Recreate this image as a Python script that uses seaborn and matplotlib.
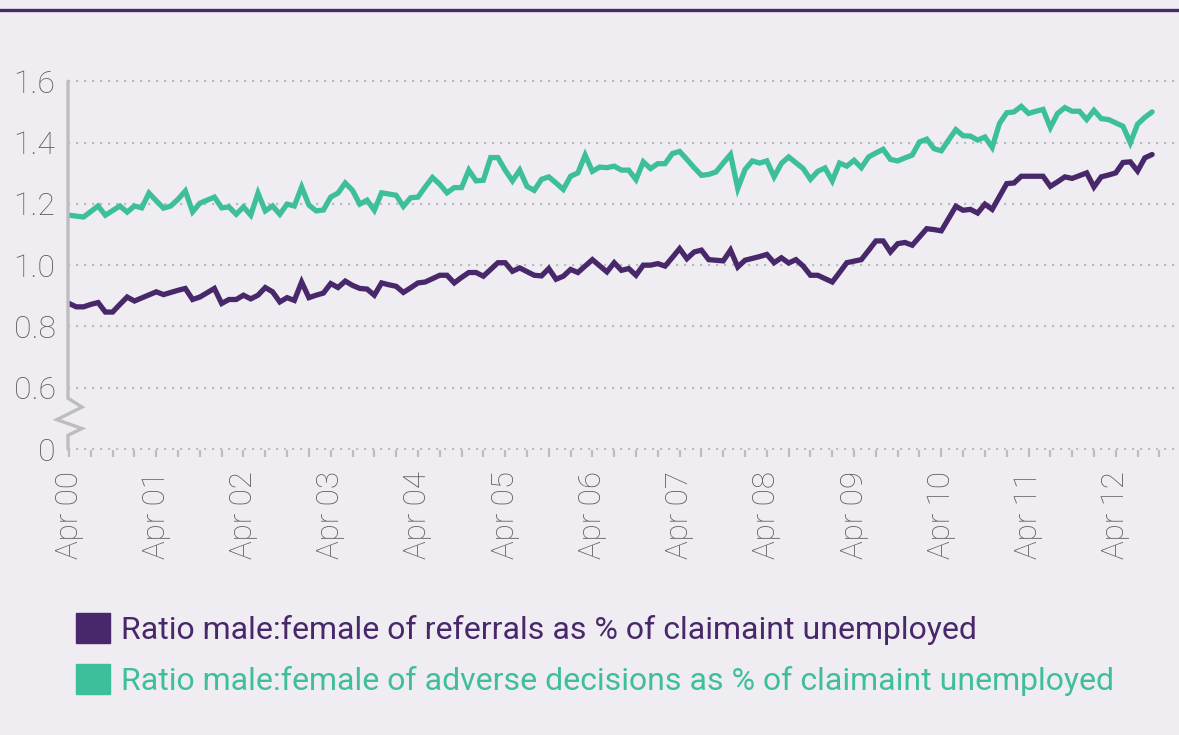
import numpy as np
import pandas as pd
import matplotlib
matplotlib.use("Agg")
import matplotlib.pyplot as plt
from matplotlib.patches import Patch
from matplotlib.lines import Line2D
import seaborn as sns


# monthly ratios, Apr 2000 onwards
referrals = [
    0.875, 0.864, 0.864, 0.872, 0.878, 0.847, 0.847, 0.872, 0.896, 0.883,
    0.893, 0.903, 0.913, 0.904, 0.911, 0.918, 0.924, 0.888, 0.896, 0.910,
    0.924, 0.875, 0.888, 0.888, 0.902, 0.890, 0.902, 0.927, 0.913, 0.880,
    0.894, 0.885, 0.945, 0.894, 0.902, 0.909, 0.940, 0.927, 0.948, 0.934,
    0.924, 0.922, 0.902, 0.942, 0.936, 0.931, 0.911, 0.926, 0.942, 0.945,
    0.956, 0.967, 0.967, 0.942, 0.960, 0.976, 0.976, 0.964, 0.986, 1.008,
    1.008, 0.980, 0.991, 0.979, 0.967, 0.965, 0.989, 0.954, 0.964, 0.986,
    0.976, 0.997, 1.018, 0.998, 0.978, 1.008, 0.983, 0.989, 0.967, 1.000,
    1.000, 1.005, 0.997, 1.025, 1.054, 1.021, 1.043, 1.049, 1.018, 1.016,
    1.014, 1.049, 0.994, 1.016, 1.022, 1.028, 1.035, 1.008, 1.024, 1.007,
    1.018, 0.997, 0.967, 0.967, 0.956, 0.945, 0.976, 1.008, 1.013, 1.018,
    1.048, 1.079, 1.079, 1.043, 1.070, 1.074, 1.065, 1.092, 1.119, 1.116,
    1.112, 1.152, 1.192, 1.179, 1.182, 1.170, 1.199, 1.182, 1.224, 1.266,
    1.268, 1.290, 1.290, 1.290, 1.290, 1.257, 1.272, 1.288, 1.283, 1.292,
    1.301, 1.255, 1.288, 1.294, 1.301, 1.335, 1.337, 1.307, 1.350, 1.361,
]

adverse = [
    1.163, 1.160, 1.157, 1.175, 1.193, 1.163, 1.178, 1.193, 1.173, 1.193,
    1.187, 1.235, 1.210, 1.186, 1.193, 1.215, 1.242, 1.174, 1.202, 1.212,
    1.222, 1.187, 1.190, 1.166, 1.190, 1.163, 1.235, 1.177, 1.193, 1.166,
    1.199, 1.193, 1.255, 1.196, 1.177, 1.180, 1.222, 1.235, 1.268, 1.244,
    1.199, 1.212, 1.179, 1.236, 1.232, 1.228, 1.192, 1.220, 1.222, 1.255,
    1.286, 1.264, 1.236, 1.253, 1.253, 1.310, 1.275, 1.277, 1.351, 1.351,
    1.310, 1.275, 1.310, 1.257, 1.244, 1.280, 1.288, 1.268, 1.247, 1.290,
    1.301, 1.359, 1.306, 1.320, 1.318, 1.323, 1.310, 1.310, 1.279, 1.337,
    1.315, 1.331, 1.331, 1.364, 1.371, 1.345, 1.318, 1.293, 1.296, 1.304,
    1.333, 1.361, 1.250, 1.312, 1.340, 1.333, 1.340, 1.288, 1.332, 1.353,
    1.334, 1.315, 1.280, 1.306, 1.317, 1.275, 1.333, 1.323, 1.342, 1.318,
    1.353, 1.366, 1.378, 1.345, 1.340, 1.350, 1.359, 1.402, 1.411, 1.380,
    1.373, 1.408, 1.442, 1.422, 1.421, 1.408, 1.418, 1.384, 1.462, 1.497,
    1.500, 1.518, 1.495, 1.502, 1.508, 1.449, 1.495, 1.514, 1.502, 1.502,
    1.475, 1.505, 1.478, 1.475, 1.464, 1.453, 1.399, 1.460, 1.482, 1.500,
]

year_labels = ["Apr 00", "Apr 01", "Apr 02", "Apr 03", "Apr 04", "Apr 05", "Apr 06",
               "Apr 07", "Apr 08", "Apr 09", "Apr 10", "Apr 11", "Apr 12"]
y_ticks = [0.4, 0.6, 0.8, 1.0, 1.2, 1.4, 1.6]
y_tick_labels = ["0", "0.6", "0.8", "1.0", "1.2", "1.4", "1.6"]
series_names = [
    "Ratio male:female of referrals as % of claimaint unemployed",
    "Ratio male:female of adverse decisions as % of claimaint unemployed",
]

BG = "#EFEDF2"
PURPLE = "#48286A"
TEAL = "#3DBF9B"
GREY = "#5A5A5E"
LIGHT = "#BDBCC0"

sns.set_style("white", {"axes.facecolor": BG, "figure.facecolor": BG})
plt.rcParams["font.family"] = ["Roboto", "DejaVu Sans"]

n = len(referrals)
months = np.arange(n)
df = pd.DataFrame({
    "month": np.concatenate([months, months]),
    "ratio": referrals + adverse,
    "series": [series_names[0]] * n + [series_names[1]] * n,
})

W, H = 1179, 735
fig = plt.figure(figsize=(W / 100, H / 100), dpi=100, facecolor=BG)
ax = fig.add_axes([68 / W, 1 - 450 / H, 1 - 68 / W, 370 / H])
ax.set_facecolor(BG)

sns.lineplot(
    data=df, x="month", y="ratio", hue="series",
    palette=[PURPLE, TEAL], linewidth=3.8, ax=ax, legend=False,
    solid_joinstyle="miter",
)

ax.set_xlim(-0.14, 152.7)
ax.set_ylim(0.397, 1.604)

for y in y_ticks:
    ax.axhline(y, color=LIGHT, lw=1.6, ls=(0, (1, 2.6)), zorder=0)

for s in ax.spines.values():
    s.set_visible(False)

# left axis with a break between 0 and 0.6
tr = ax.get_yaxis_transform()
dx = 14 / (W - 68)
ax.plot([0, 0, dx, -0.8 * dx, dx, 0, 0],
        [1.6, 0.566, 0.537, 0.496, 0.467, 0.445, 0.4],
        transform=tr, color=LIGHT, lw=2.4, clip_on=False,
        solid_joinstyle="miter")

ax.set_yticks(y_ticks)
ax.set_yticklabels(y_tick_labels)
ax.set_xticks(np.arange(0, 145, 12))
ax.set_xticklabels(year_labels, rotation=90, va="top", ha="center")
ax.set_xticks(np.arange(0, 153, 3), minor=True)
ax.tick_params(axis="y", length=0, pad=9, labelsize=23, labelcolor=GREY)
ax.tick_params(axis="x", which="both", length=5, width=1.6, color=LIGHT,
               direction="out", bottom=True)
ax.tick_params(axis="x", which="major", pad=10, labelsize=22.5, labelcolor=GREY)
for t in ax.get_xticklabels() + ax.get_yticklabels():
    t.set_fontweight("light")
ax.set_xlabel("")
ax.set_ylabel("")

fig.add_artist(Line2D([0, 1], [1 - 10 / H, 1 - 10 / H], color=PURPLE, lw=2.4,
                      transform=fig.transFigure))

handles = [Patch(color=PURPLE), Patch(color=TEAL)]
leg = fig.legend(
    handles, series_names, loc="upper left",
    bbox_to_anchor=(76 / W, 1 - 613 / H), frameon=False,
    fontsize=23, handlelength=1.05, handleheight=1.05,
    handletextpad=0.37, labelspacing=0.6, borderpad=0, borderaxespad=0,
)
for txt, c in zip(leg.get_texts(), [PURPLE, TEAL]):
    txt.set_color(c)

plt.savefig("out.png", dpi=100, facecolor=BG)
